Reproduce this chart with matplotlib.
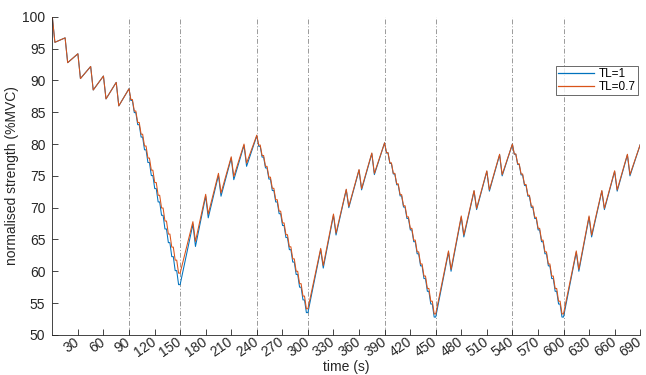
import matplotlib
matplotlib.use("Agg")
import matplotlib.pyplot as plt
import matplotlib.transforms as mtransforms
import numpy as np

plt.rcParams['font.family'] = ['Liberation Sans', 'DejaVu Sans']

# ---------------- data ----------------
# warm-up intermittent phase 0-90 s (identical for both series)
warm_t = [0, 3, 15, 18, 30, 33, 45, 48, 60, 63, 75, 78, 90]
warm_v = [100, 96.0, 96.7, 92.8, 94.2, 90.3, 92.2, 88.5, 90.7, 87.1, 89.7, 86.0, 88.7]

# descending (work) phases: start times and 4-s step levels
desc_start = [90, 240, 390, 540]
desc_blue = [
    [86.85, 84.95, 83.05, 81.1, 79.1, 77.1, 75.05, 73.0, 70.9, 68.8, 66.65, 64.5, 62.3, 60.1, 57.9],
    [79.65, 77.95, 76.25, 74.5, 72.7, 70.9, 69.05, 67.2, 65.3, 63.4, 61.45, 59.5, 57.5, 55.5, 53.5],
    [78.6, 76.95, 75.3, 73.6, 71.85, 70.1, 68.3, 66.5, 64.65, 62.75, 60.85, 58.85, 56.85, 54.85, 52.8],
    [78.4, 76.8, 75.15, 73.5, 71.8, 70.05, 68.3, 66.5, 64.65, 62.75, 60.85, 58.85, 56.85, 54.85, 52.8],
]
desc_orange = [
    [87.0, 85.2, 83.4, 81.55, 79.7, 77.8, 75.9, 73.95, 71.95, 69.95, 67.9, 65.85, 63.8, 61.75, 59.7],
    [79.85, 78.2, 76.5, 74.8, 73.05, 71.25, 69.45, 67.6, 65.75, 63.85, 61.95, 60.0, 58.05, 56.1, 54.1],
    [78.65, 77.05, 75.4, 73.75, 72.05, 70.3, 68.55, 66.75, 64.9, 63.05, 61.15, 59.25, 57.3, 55.3, 53.3],
    [78.45, 76.9, 75.3, 73.65, 71.95, 70.25, 68.5, 66.75, 64.9, 63.05, 61.15, 59.25, 57.3, 55.3, 53.3],
]

# recovery (intermittent) phases: knots at T0, T0+15, T0+18, ..., T0+78, T0+90
rise_start = [150, 300, 450, 600]
rise_offsets = [0, 15, 18, 30, 33, 45, 48, 60, 63, 75, 78, 90]
rise_blue = [
    [57.9, 67.4, 63.9, 71.8, 68.4, 75.1, 71.8, 77.8, 74.4, 79.8, 76.5, 81.3],
    [53.5, 63.4, 60.5, 68.8, 65.7, 72.8, 70.0, 75.9, 72.8, 78.5, 75.2, 80.2],
    [52.8, 63.0, 60.0, 68.5, 65.4, 72.6, 69.7, 75.7, 72.6, 78.3, 75.0, 80.0],
    [52.8, 63.0, 60.0, 68.5, 65.4, 72.6, 69.7, 75.7, 72.6, 78.3, 75.0, 79.9],
]
rise_orange = [
    [59.7, 67.8, 64.7, 72.1, 69.0, 75.4, 72.3, 78.0, 74.9, 80.0, 77.0, 81.4],
    [54.1, 63.6, 60.9, 69.0, 66.0, 72.9, 70.2, 76.0, 73.0, 78.6, 75.4, 80.2],
    [53.3, 63.2, 60.3, 68.7, 65.7, 72.7, 69.9, 75.8, 72.8, 78.4, 75.2, 80.0],
    [53.3, 63.2, 60.3, 68.7, 65.7, 72.7, 69.9, 75.8, 72.8, 78.4, 75.2, 79.9],
]

phase_lines = [90, 150, 240, 300, 390, 450, 540, 600, 690]
xticks = list(range(30, 691, 30))
yticks = list(range(50, 101, 5))
labels = ["TL=1", "TL=0.7"]
colors = ["#0072BD", "#D95319"]


def build(desc, rise):
    t = list(warm_t)
    v = list(warm_v)
    for k in range(4):
        T0 = desc_start[k]
        for i, lev in enumerate(desc[k]):
            ts = T0 + 4 * i
            t += [ts + 2.2, ts + 4]
            v += [lev, lev]
        R0 = rise_start[k]
        for off, val in zip(rise_offsets[1:], rise[k][1:]):
            t.append(R0 + off)
            v.append(val)
    return np.array(t), np.array(v)


fig = plt.figure(figsize=(6.46, 3.75), dpi=100)
ax = fig.add_axes([0.081, 0.107, 0.910, 0.848])

tb, vb = build(desc_blue, rise_blue)
to, vo = build(desc_orange, rise_orange)
ax.plot(tb, vb, color=colors[0], lw=0.75, label=labels[0])
ax.plot(to, vo, color=colors[1], lw=0.75, label=labels[1])

for x in phase_lines:
    ax.axvline(x, color="#9a9a9a", lw=0.7, ls=(0, (5, 2, 1, 2)), zorder=0)

ax.set_xlim(0, 690)
ax.set_ylim(50, 100)
ax.set_xticks(xticks)
ax.set_xticklabels([str(x) for x in xticks], rotation=35, ha="right",
                   va="top", rotation_mode="anchor")
ax.set_yticks(yticks)
ax.tick_params(direction="in", length=4, colors="#262626", labelsize=10,
               width=0.6)
ax.tick_params(axis="x", pad=0)
ax.tick_params(axis="y", pad=5)
shift = mtransforms.ScaledTranslation(-4 / 100, 0, fig.dpi_scale_trans)
for lab in ax.get_xticklabels():
    lab.set_transform(lab.get_transform() + shift)
for s in ["top", "right"]:
    ax.spines[s].set_visible(False)
for s in ["left", "bottom"]:
    ax.spines[s].set_color("#262626")
    ax.spines[s].set_linewidth(0.6)

ax.set_xlabel("time (s)", fontsize=10, color="#262626", labelpad=0)
ax.set_ylabel("normalised strength (%MVC)", fontsize=10, color="#262626", labelpad=2)

leg = ax.legend(loc="upper right", bbox_to_anchor=(0.996, 0.846), fontsize=8.5,
                frameon=True, fancybox=False, handlelength=3.0,
                borderpad=0.2, labelspacing=0.05, handletextpad=0.4,
                borderaxespad=0.0)
leg.get_frame().set_edgecolor("#262626")
leg.get_frame().set_linewidth(0.6)
for h in leg.get_lines():
    h.set_linewidth(0.9)

fig.savefig("out.png", dpi=100)
